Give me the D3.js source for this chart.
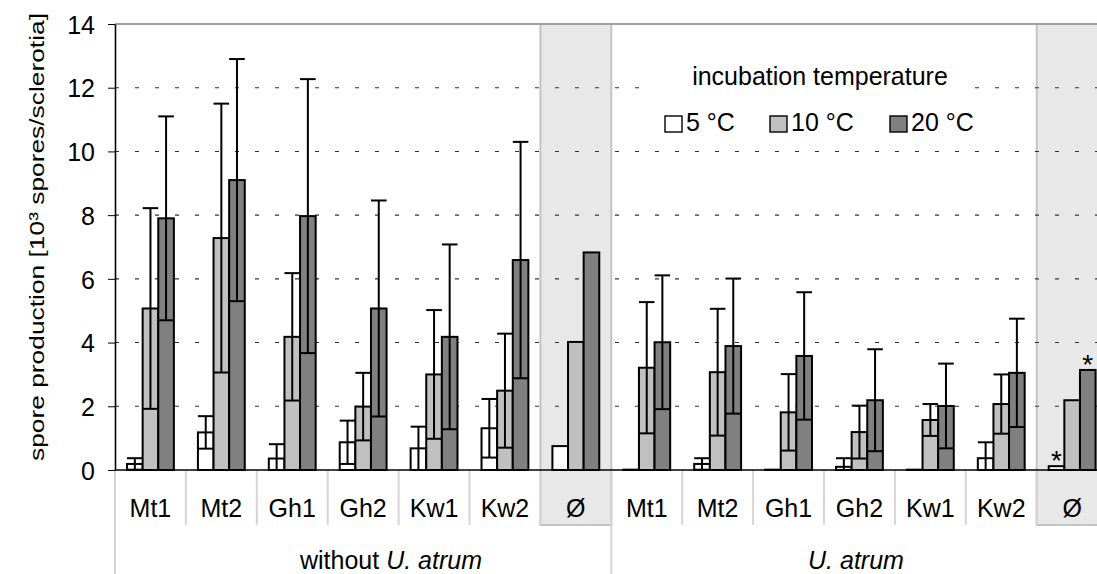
<!DOCTYPE html>
<html>
<head>
<meta charset="utf-8">
<script src="https://cdn.jsdelivr.net/npm/d3@7"></script>
<style>
  html, body { margin: 0; padding: 0; background: #fff; }
  svg { display: block; font-family: "Liberation Sans", Arial, sans-serif; }
</style>
</head>
<body>
<svg id="chart" width="1097" height="574"></svg>
<script>
// Isolates per category; the two groups are without / with U. atrum
const categories = ["Mt1", "Mt2", "Gh1", "Gh2", "Kw1", "Kw2", "Ø", "Mt1", "Mt2", "Gh1", "Gh2", "Kw1", "Kw2", "Ø"];
const controlIdx = [6, 13];
const seriesNames = ["5 °C", "10 °C", "20 °C"];

// Mean spore production (10³ spores/sclerotia) per incubation temperature
const mean5  = [0.19, 1.18, 0.36, 0.87, 0.68, 1.31, 0.75, 0.01, 0.19, 0.01, 0.10, 0.01, 0.37, 0.12];
const mean10 = [5.07, 7.28, 4.18, 1.99, 3.00, 2.49, 4.02, 3.21, 3.07, 1.81, 1.19, 1.57, 2.07, 2.19];
const mean20 = [7.90, 9.10, 7.97, 5.07, 4.18, 6.59, 6.83, 4.01, 3.89, 3.58, 2.19, 2.01, 3.05, 3.14];

// Standard deviations (null: no error bar)
const sd5  = [0.18, 0.51, 0.45, 0.68, 0.68, 0.92, null, 0, 0.18, 0, 0.27, 0, 0.50, null];
const sd10 = [3.15, 4.22, 2.00, 1.06, 2.02, 1.79, null, 2.06, 1.99, 1.20, 0.83, 0.50, 0.93, null];
const sd20 = [3.20, 3.80, 4.30, 3.39, 2.90, 3.71, null, 2.10, 2.12, 2.00, 1.60, 1.33, 1.70, null];

// Significance marks: [category index, series index]
const starred = [[13, 0], [13, 2]];

const yTicks = [0, 2, 4, 6, 8, 10, 12, 14];
const groups = [
  { plain: "without ", italic: "U. atrum", cx: 391 },
  { plain: "", italic: "U. atrum", cx: 856 }
];

const means = [mean5, mean10, mean20];
const sds = [sd5, sd10, sd20];
const fills = ["#ffffff", "#c0c0c0", "#808080"];

const svg = d3.select("#chart");
const plotTop = 24, plotBottom = 470, plotLeft = 115;
const labelBottom = 525;

const x = d3.scaleBand().domain(d3.range(categories.length)).range([plotLeft, 1107.6]).padding(0);
const xs = d3.scaleBand().domain(d3.range(seriesNames.length))
  .range([0, x.bandwidth()]).paddingInner(0).paddingOuter(0.77);
const y = d3.scaleLinear().domain([0, 14]).range([plotBottom, plotTop]);

// shaded control columns
svg.append("g").selectAll("rect").data(controlIdx).join("rect")
  .attr("x", d => x(d)).attr("y", plotTop)
  .attr("width", x.bandwidth()).attr("height", labelBottom - plotTop)
  .attr("fill", "#e8e8e8").attr("stroke", "#c4c4c4").attr("stroke-width", 2);

// dashed gridlines
svg.append("g").selectAll("line").data(yTicks.filter(t => t > 0 && t < 14)).join("line")
  .attr("x1", plotLeft).attr("x2", 1097)
  .attr("y1", d => y(d)).attr("y2", d => y(d))
  .attr("stroke", "#333").attr("stroke-width", 1.1).attr("stroke-dasharray", "4,16");

// top frame line
svg.append("line").attr("x1", plotLeft).attr("x2", 1097)
  .attr("y1", y(14)).attr("y2", y(14))
  .attr("stroke", "#a0a0a0").attr("stroke-width", 2);

// category separators below the axis
const bounds = d3.range(categories.length + 1).map(i => plotLeft + i * x.step());
svg.append("g").selectAll("line").data(bounds).join("line")
  .attr("x1", d => d).attr("x2", d => d)
  .attr("y1", plotBottom).attr("y2", (d, i) => (i === 0 || i === 7 || i === 14) ? 574 : labelBottom)
  .attr("stroke", "#d6d6d6").attr("stroke-width", 2);

// legend backdrop
svg.append("rect").attr("x", 655).attr("y", 52).attr("width", 320).attr("height", 90).attr("fill", "#fff");

// bars
const bars = svg.append("g");
means.forEach((arr, s) => {
  bars.selectAll(null).data(arr).join("rect")
    .attr("x", (d, i) => x(i) + xs(s))
    .attr("y", d => y(d))
    .attr("width", xs.bandwidth())
    .attr("height", d => y(0) - y(d))
    .attr("fill", fills[s]).attr("stroke", "#000").attr("stroke-width", 2);
});

// error bars
const err = svg.append("g").attr("stroke", "#000").attr("stroke-width", 2);
means.forEach((arr, s) => {
  arr.forEach((m, i) => {
    const sd = sds[s][i];
    if (sd == null || sd === 0) return;
    const cx = x(i) + xs(s) + xs.bandwidth() / 2;
    const hw = xs.bandwidth() / 2;
    const lo = Math.max(0, m - sd), hi = m + sd;
    err.append("line").attr("x1", cx).attr("x2", cx).attr("y1", y(lo)).attr("y2", y(hi));
    err.append("line").attr("x1", cx - hw).attr("x2", cx + hw).attr("y1", y(hi)).attr("y2", y(hi));
    if (lo > 0) err.append("line").attr("x1", cx - hw).attr("x2", cx + hw).attr("y1", y(lo)).attr("y2", y(lo));
  });
});

// asterisks
svg.append("g").selectAll("text").data(starred).join("text")
  .attr("x", d => x(d[0]) + xs(d[1]) + xs.bandwidth() / 2)
  .attr("y", d => y(means[d[1]][d[0]]) + 4)
  .attr("text-anchor", "middle").attr("font-size", 28).text("*");

// x baseline
svg.append("line").attr("x1", plotLeft).attr("x2", 1097)
  .attr("y1", y(0)).attr("y2", y(0)).attr("stroke", "#000").attr("stroke-width", 1.6);

// y axis
const yAxis = svg.append("g").attr("transform", `translate(${plotLeft},0)`)
  .call(d3.axisLeft(y).tickValues(yTicks).tickSize(7).tickSizeOuter(0).tickPadding(13));
yAxis.select(".domain").attr("stroke", "#000").attr("stroke-width", 1.6);
yAxis.selectAll(".tick line").attr("stroke", "#000");
yAxis.selectAll(".tick text").attr("font-size", 25).attr("fill", "#000").attr("dy", "0.37em")
  .attr("font-family", "Liberation Sans, Arial, sans-serif");

// y title
svg.append("text")
  .attr("transform", "translate(44,237) rotate(-90)")
  .attr("text-anchor", "middle").attr("font-size", 21)
  .attr("textLength", 448).attr("lengthAdjust", "spacingAndGlyphs")
  .text("spore production [10³ spores/sclerotia]");

// category labels
svg.append("g").selectAll("text").data(categories).join("text")
  .attr("x", (d, i) => x(i) + x.bandwidth() / 2)
  .attr("y", 516.5).attr("text-anchor", "middle").attr("font-size", 25)
  .text(d => d);

// group labels
const gl = svg.append("g").selectAll("text").data(groups).join("text")
  .attr("x", d => d.cx).attr("y", 569).attr("text-anchor", "middle").attr("font-size", 25);
gl.append("tspan").text(d => d.plain);
gl.append("tspan").attr("font-style", "italic").text(d => d.italic);

// legend
svg.append("text").attr("x", 820).attr("y", 85).attr("text-anchor", "middle")
  .attr("font-size", 25).text("incubation temperature");
const legendX = [665, 770, 890];
const li = svg.append("g").selectAll("g").data(seriesNames).join("g")
  .attr("transform", (d, i) => `translate(${legendX[i]},116)`);
li.append("rect").attr("width", 17).attr("height", 16)
  .attr("fill", (d, i) => fills[i]).attr("stroke", "#000").attr("stroke-width", 1.4);
li.append("text").attr("x", 21).attr("y", 14.5).attr("font-size", 25).text(d => d);
</script>
</body>
</html>
